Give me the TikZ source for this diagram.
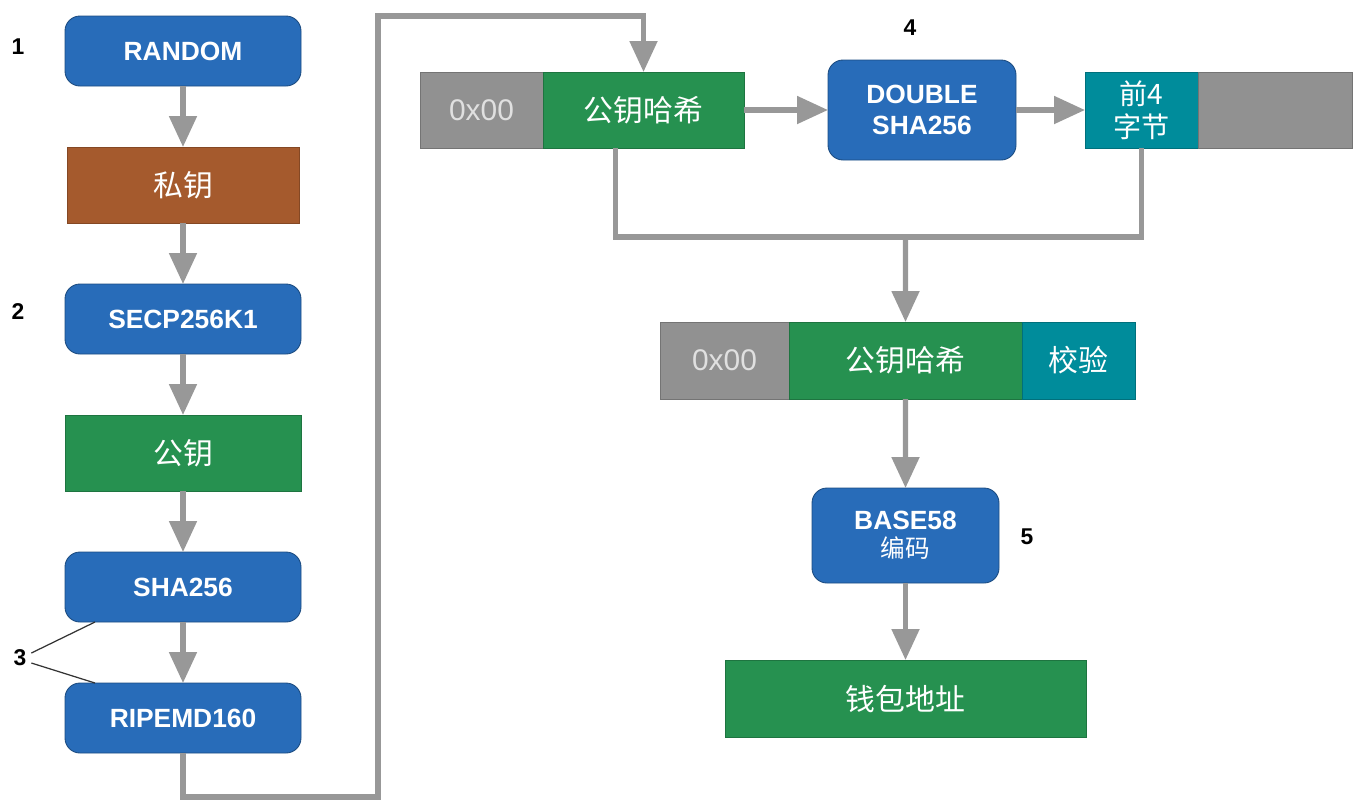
\documentclass[tikz,border=0pt]{standalone}
\usepackage{fontspec}
\setmainfont{Liberation Sans}
\newfontfamily\cjk{Noto Sans CJK SC}
\usetikzlibrary{arrows.meta, positioning}

\definecolor{hashblue}{RGB}{40,108,185}
\definecolor{hashgreen}{RGB}{38,145,80}
\definecolor{keybrown}{RGB}{165,90,45}
\definecolor{sumteal}{RGB}{0,140,155}
\definecolor{padgrey}{RGB}{145,145,145}
\definecolor{linkgrey}{RGB}{152,152,152}

\begin{document}
\begin{tikzpicture}[
    node distance=1.22cm,
    every node/.style={text=white, inner sep=0pt, outer sep=0pt},
    algo/.style={rectangle, draw=hashblue!70!black, line width=0.5pt, fill=hashblue,
                 rounded corners=0.3cm, minimum width=4.72cm, minimum height=1.4cm,
                 align=center, font=\fontsize{15}{18}\selectfont\bfseries},
    data/.style={rectangle, draw=#1!80!black, line width=0.4pt, fill=#1,
                 minimum height=1.52cm, align=center,
                 font=\fontsize{17}{20}\selectfont\cjk},
    pad/.style={data=padgrey, text=white!88!black,
                font=\fontsize{17}{20}\selectfont},
    num/.style={text=black, font=\fontsize{13}{15}\selectfont\bfseries},
    arrow/.style={-{Triangle[length=0.62cm, width=0.54cm]}, line width=2.9pt, draw=linkgrey},
    link/.style={line width=2.9pt, draw=linkgrey}
]
\useasboundingbox (0,0) rectangle (27.2,-16.18);

% left column
\node[algo] (random) at (3.66,-1.02) {RANDOM};
\node[data=keybrown, minimum width=4.64cm, below=of random] (privkey) {私钥};
\node[algo, below=of privkey] (secp) {SECP256K1};
\node[data=hashgreen, minimum width=4.72cm, below=of secp] (pubkey) {公钥};
\node[algo, below=of pubkey] (sha) {SHA256};
\node[algo, below=of sha] (ripemd) {RIPEMD160};

% top row
\node[pad, minimum width=2.46cm] (ver1) at (9.63,-2.2) {0x00};
\node[data=hashgreen, minimum width=4.02cm, right=0pt of ver1] (pkh1) {公钥哈希};
\node[algo, minimum width=3.76cm, minimum height=2cm] (dsha) at (18.44,-2.2) {DOUBLE\\SHA256};
\node[data=sumteal, minimum width=2.26cm, font=\fontsize{16}{19}\selectfont\cjk] (first4) at (22.83,-2.2) {前4\\字节};
\node[data=padgrey, minimum width=3.08cm, right=0pt of first4] (rest) {};

% middle row
\node[pad, minimum width=2.58cm, minimum height=1.54cm] (ver2) at (14.49,-7.21) {0x00};
\node[data=hashgreen, minimum width=4.66cm, minimum height=1.54cm, right=0pt of ver2] (pkh2) {公钥哈希};
\node[data=sumteal, minimum width=2.26cm, minimum height=1.54cm, right=0pt of pkh2] (check) {校验};

% bottom
\node[algo, minimum width=3.74cm, minimum height=1.9cm] (b58) at (18.11,-10.71)
    {BASE58\\[-2pt]{\cjk\mdseries\fontsize{14}{16}\selectfont 编码}};
\node[data=hashgreen, minimum width=7.22cm, minimum height=1.54cm] (wallet) at (18.11,-13.97) {钱包地址};

% step numbers
\node[num] (n1) at (0.36,-0.94) {1};
\node[num] (n2) at (0.36,-6.24) {2};
\node[num] (n3) at (0.4,-13.16) {3};
\node[num] (n4) at (18.2,-0.56) {4};
\node[num] (n5) at (20.54,-10.74) {5};

\coordinate (lowturn) at (7.56,-15.94);
\coordinate (highturn) at (7.56,-0.32);
\coordinate (join) at (18.11,-4.74);

% Arrows
\draw[arrow] (random) -- (privkey);
\draw[arrow] (privkey) -- (secp);
\draw[arrow] (secp) -- (pubkey);
\draw[arrow] (pubkey) -- (sha);
\draw[arrow] (sha) -- (ripemd);
\draw[arrow] (ripemd.south) |- (lowturn) -- (highturn) -| (pkh1.north);
\draw[arrow] (pkh1) -- (dsha);
\draw[arrow] (dsha) -- (first4);
\draw[link] ([xshift=-0.56cm]pkh1.south) |- (join) -| (first4.south);
\draw[arrow] (join) -- (pkh2.north);
\draw[arrow] (pkh2) -- (b58);
\draw[arrow] (b58) -- (wallet);

% leaders for 3
\draw[black!80, line width=0.7pt] ([xshift=0.1cm,yshift=0.1cm]n3.east) -- ([xshift=0.6cm]sha.south west);
\draw[black!80, line width=0.7pt] ([xshift=0.1cm,yshift=-0.1cm]n3.east) -- ([xshift=0.6cm]ripemd.north west);

\end{tikzpicture}
\end{document}
